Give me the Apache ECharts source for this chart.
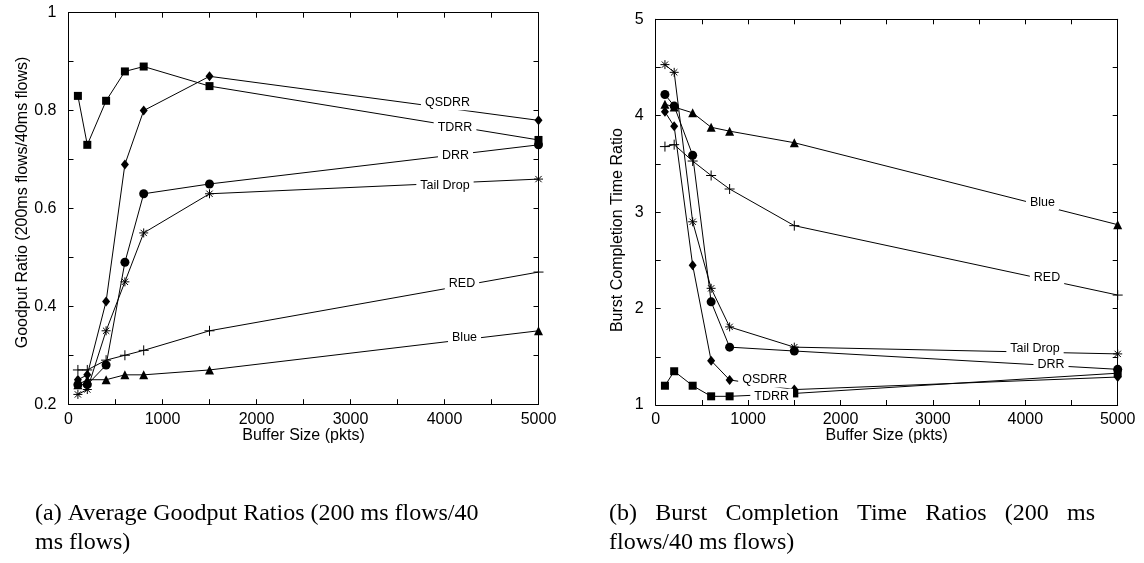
<!DOCTYPE html>
<html>
<head>
<meta charset="utf-8">
<script src="https://cdn.jsdelivr.net/npm/echarts@6/dist/echarts.min.js"></script>
<style>
html,body{margin:0;padding:0;background:#fff;}
#c{width:1144px;height:563px;}
</style>
</head>
<body>
<div id="c"></div>
<script>
// ---- data ----
var bufferSizes = [100, 200, 400, 600, 800, 1500, 5000];
var schemes = ['QSDRR', 'TDRR', 'DRR', 'Tail Drop', 'RED', 'Blue'];

// (a) Goodput ratio
var goodputQSDRR    = [0.25, 0.26, 0.41, 0.69, 0.80, 0.87, 0.78];
var goodputTDRR     = [0.83, 0.73, 0.82, 0.88, 0.89, 0.85, 0.74];
var goodputDRR      = [0.24, 0.24, 0.28, 0.49, 0.63, 0.65, 0.73];
var goodputTailDrop = [0.22, 0.23, 0.35, 0.45, 0.55, 0.63, 0.66];
var goodputRED      = [0.27, 0.27, 0.29, 0.30, 0.31, 0.35, 0.47];
var goodputBlue     = [0.24, 0.25, 0.25, 0.26, 0.26, 0.27, 0.35];

// (b) Burst completion time ratio
var burstQSDRR    = [4.04, 3.89, 2.45, 1.46, 1.26, 1.16, 1.29];
var burstTDRR     = [1.20, 1.35, 1.20, 1.09, 1.09, 1.12, 1.33];
var burstDRR      = [4.22, 4.10, 3.59, 2.07, 1.60, 1.56, 1.37];
var burstTailDrop = [4.53, 4.45, 2.90, 2.21, 1.81, 1.60, 1.53];
var burstRED      = [3.68, 3.70, 3.53, 3.38, 3.24, 2.86, 2.14];
var burstBlue     = [4.12, 4.09, 4.03, 3.88, 3.84, 3.72, 2.87];

var xTickLabels = ['0', '1000', '2000', '3000', '4000', '5000'];
var captionA = ['(a) Average Goodput Ratios (200 ms flows/40', 'ms flows)'];
var captionB = ['(b) Burst Completion Time Ratios (200 ms', 'flows/40 ms flows)'];

// ---- label anchor placements (data coordinates) ----
var labelAnchorsA = {
  'QSDRR': [4032, 0.816], 'TDRR': [4112, 0.765], 'DRR': [4117, 0.708],
  'Tail Drop': [4005, 0.646], 'RED': [4186, 0.446], 'Blue': [4213, 0.337]
};
var labelAnchorsB = {
  'QSDRR': [1180, 1.26], 'TDRR': [1255, 1.09], 'DRR': [4278, 1.42],
  'Tail Drop': [4105, 1.59], 'RED': [4235, 2.32], 'Blue': [4186, 3.10]
};

// ---- styles ----
var SANS = '"Liberation Sans", Arial, Helvetica, sans-serif';
var SERIF = '"Liberation Serif", "Times New Roman", serif';
var CAPTION_FONT = '24px ' + SERIF;
var symbolStyle = {
  'QSDRR':     {symbol: 'diamond', size: [8, 10]},
  'TDRR':      {symbol: 'rect', size: 8},
  'DRR':       {symbol: 'circle', size: 9},
  'Tail Drop': {symbol: 'path://M5,0L5,10M0,5L10,5M1.5,1.5L8.5,8.5M1.5,8.5L8.5,1.5', size: 9, stroke: true},
  'RED':       {symbol: 'path://M5,0L5,10M0,5L10,5', size: 10, stroke: true},
  'Blue':      {symbol: 'triangle', size: 9}
};

var chart = echarts.init(document.getElementById('c'), null, {renderer: 'canvas'});

function xAxisDef(grid, pos, showLabels, showName) {
  return {
    type: 'value', gridIndex: grid, position: pos, min: 0, max: 5000, interval: 500,
    axisLine: {show: true, onZero: false, lineStyle: {color: '#000', width: 1}},
    axisTick: {show: true, inside: true, length: 5, lineStyle: {color: '#000'}},
    splitLine: {show: false},
    axisLabel: {
      show: showLabels, color: '#000', fontFamily: SANS, fontSize: 16, margin: 7,
      formatter: function (v) { var i = Math.round(v / 1000); return (v % 1000 === 0) ? xTickLabels[i] : ''; }
    },
    name: showName ? 'Buffer Size (pkts)' : '', nameLocation: 'middle', nameGap: 23,
    nameMoveOverlap: false,
    nameTextStyle: {color: '#000', fontFamily: SANS, fontSize: 16, verticalAlign: 'top'}
  };
}
function yAxisDef(grid, pos, showLabels, min, max, interval, labelStep, name, nameGap, namePad) {
  return {
    type: 'value', gridIndex: grid, position: pos, min: min, max: max, interval: interval,
    axisLine: {show: true, onZero: false, lineStyle: {color: '#000', width: 1}},
    axisTick: {show: true, inside: true, length: 5, lineStyle: {color: '#000'}},
    splitLine: {show: false},
    axisLabel: {
      show: showLabels, color: '#000', fontFamily: SANS, fontSize: 16, margin: 12,
      formatter: function (v) {
        var k = Math.round(v / labelStep * 1000) / 1000;
        return (Math.abs(k - Math.round(k)) < 1e-6) ? String(+v.toFixed(1)) : '';
      }
    },
    name: name, nameLocation: 'middle', nameGap: nameGap, nameRotate: 90,
    nameTextStyle: {color: '#000', fontFamily: SANS, fontSize: 16, padding: namePad || 0}
  };
}

function makeSeries(name, xs, ys, gridIdx, anchors) {
  var st = symbolStyle[name];
  var data = xs.map(function (x, i) { return [x, ys[i]]; });
  return {
    name: name, type: 'line', xAxisIndex: gridIdx * 2, yAxisIndex: gridIdx * 2,
    data: data, symbol: st.symbol, symbolSize: st.size, showAllSymbol: true,
    lineStyle: {color: '#000', width: 1},
    itemStyle: {color: st.stroke ? 'rgba(0,0,0,0)' : '#000', borderColor: '#000', borderWidth: st.stroke ? 1 : 0},
    emphasis: {disabled: true},
    animation: false,
    markPoint: {
      symbol: 'rect', symbolSize: 0, silent: true, animation: false,
      label: {
        show: true, position: 'inside', formatter: name, color: '#000',
        fontFamily: SANS, fontSize: 12.5, backgroundColor: '#fff', padding: [1, 4]
      },
      data: [{coord: anchors[name]}]
    }
  };
}

var goodputByScheme = {'QSDRR': goodputQSDRR, 'TDRR': goodputTDRR, 'DRR': goodputDRR,
  'Tail Drop': goodputTailDrop, 'RED': goodputRED, 'Blue': goodputBlue};
var burstByScheme = {'QSDRR': burstQSDRR, 'TDRR': burstTDRR, 'DRR': burstDRR,
  'Tail Drop': burstTailDrop, 'RED': burstRED, 'Blue': burstBlue};

var series = [];
schemes.forEach(function (s) { series.push(makeSeries(s, bufferSizes, goodputByScheme[s], 0, labelAnchorsA)); });
schemes.forEach(function (s) { series.push(makeSeries(s, bufferSizes, burstByScheme[s], 1, labelAnchorsB)); });

// justified caption line (b) line 1: spread words between left and right edges
function justifiedWords(text, left, right, top) {
  var ctx = document.createElement('canvas').getContext('2d');
  ctx.font = CAPTION_FONT;
  var words = text.split(' ');
  var widths = words.map(function (w) { return ctx.measureText(w).width; });
  var total = widths.reduce(function (a, b) { return a + b; }, 0);
  var gap = (right - left - total) / (words.length - 1);
  var x = left, els = [];
  words.forEach(function (w, i) {
    els.push({type: 'text', left: x, top: top, style: {text: w, font: CAPTION_FONT, fill: '#000'}});
    x += widths[i] + gap;
  });
  return els;
}

var graphics = [
  {type: 'text', left: 35, top: 502, style: {text: captionA[0], font: CAPTION_FONT, fill: '#000'}},
  {type: 'text', left: 35, top: 531, style: {text: captionA[1], font: CAPTION_FONT, fill: '#000'}},
  {type: 'text', left: 609, top: 531, style: {text: captionB[1], font: CAPTION_FONT, fill: '#000'}}
].concat(justifiedWords(captionB[0], 609, 1095, 502));

var option = {
  backgroundColor: '#fff',
  animation: false,
  grid: [
    {left: 68.5, top: 12.7, width: 470, height: 391.5, containLabel: false},
    {left: 655.7, top: 19.3, width: 462, height: 385.7, containLabel: false}
  ],
  xAxis: [
    xAxisDef(0, 'bottom', true, true), xAxisDef(0, 'top', false, false),
    xAxisDef(1, 'bottom', true, true), xAxisDef(1, 'top', false, false)
  ],
  yAxis: [
    yAxisDef(0, 'left', true, 0.2, 1, 0.1, 0.2, 'Goodput Ratio (200ms flows/40ms flows)', 36, [0, 0, 0, 12]),
    yAxisDef(0, 'right', false, 0.2, 1, 0.1, 0.2, '', 0),
    yAxisDef(1, 'left', true, 1, 5, 0.5, 1, 'Burst Completion Time Ratio', 30, [0, 36, 0, 0]),
    yAxisDef(1, 'right', false, 1, 5, 0.5, 1, '', 0)
  ],
  series: series,
  graphic: graphics
};
chart.setOption(option);
</script>
</body>
</html>
